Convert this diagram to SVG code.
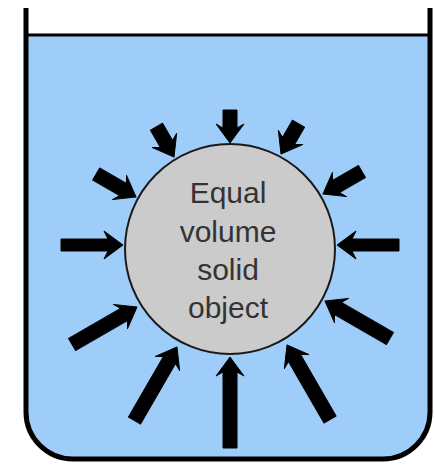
<svg xmlns="http://www.w3.org/2000/svg" width="434" height="465" viewBox="0 0 434 465">
<style>
.arrow{fill:#000000;stroke:#000000;stroke-width:1;stroke-linejoin:round;}
.wall{fill:none;stroke:#000000;stroke-width:5;stroke-linejoin:round;}
.label{font-family:"Liberation Sans",Arial,sans-serif;font-size:30px;fill:#333333;text-anchor:middle;}
</style>
<rect width="434" height="465" fill="#ffffff"/>
<g id="container">
<path d="M26,35 L430,35 L430,412 A47,47 0 0 1 383,459 L73,459 A47,47 0 0 1 26,412 Z" fill="#9fcdf9"/>
<line x1="26" y1="35" x2="430" y2="35" stroke="#000000" stroke-width="3"/>
<path class="wall" d="M26,8 L26,412 A47,47 0 0 0 73,459 L383,459 A47,47 0 0 0 430,412 L430,8"/>
</g>
<g id="object">
<circle cx="230" cy="249" r="105" fill="#cbcbcb" stroke="#1a1a1a" stroke-width="2"/>
<text class="label" x="228" y="203">Equal</text>
<text class="label" x="228" y="242">volume</text>
<text class="label" x="228" y="280">solid</text>
<text class="label" x="228" y="318">object</text>
</g>
<g id="connectors">
<path class="arrow" transform="translate(230,143) rotate(90)" d="M0,0 L-19,-14 L-15,-7 L-33,-7 L-33,7 L-15,7 L-19,14 Z"/>
<path class="arrow" transform="translate(174,157) rotate(60)" d="M0,0 L-19,-14 L-15,-7 L-35,-7 L-35,7 L-15,7 L-19,14 Z"/>
<path class="arrow" transform="translate(281,154) rotate(120)" d="M0,0 L-19,-14 L-15,-7 L-35,-7 L-35,7 L-15,7 L-19,14 Z"/>
<path class="arrow" transform="translate(136,197) rotate(30)" d="M0,0 L-19,-14 L-15,-7 L-46,-7 L-46,7 L-15,7 L-19,14 Z"/>
<path class="arrow" transform="translate(323,194) rotate(150)" d="M0,0 L-19,-14 L-15,-7 L-45,-7 L-45,7 L-15,7 L-19,14 Z"/>
<path class="arrow" transform="translate(123,245) rotate(0)" d="M0,0 L-19,-14 L-15,-6 L-62,-6 L-62,6 L-15,6 L-19,14 Z"/>
<path class="arrow" transform="translate(337,245) rotate(180)" d="M0,0 L-19,-14 L-15,-6 L-62,-6 L-62,6 L-15,6 L-19,14 Z"/>
<path class="arrow" transform="translate(137,307) rotate(-30)" d="M0,0 L-19,-14 L-15,-7 L-75,-7 L-75,7 L-15,7 L-19,14 Z"/>
<path class="arrow" transform="translate(177,347) rotate(-60)" d="M0,0 L-19,-14 L-15,-7 L-85,-7 L-85,7 L-15,7 L-19,14 Z"/>
<path class="arrow" transform="translate(230,357) rotate(-90)" d="M0,0 L-19,-14 L-15,-7 L-91,-7 L-91,7 L-15,7 L-19,14 Z"/>
<path class="arrow" transform="translate(287,345) rotate(-120)" d="M0,0 L-19,-14 L-15,-7 L-86,-7 L-86,7 L-15,7 L-19,14 Z"/>
<path class="arrow" transform="translate(325,301) rotate(-150)" d="M0,0 L-19,-14 L-15,-7 L-75,-7 L-75,7 L-15,7 L-19,14 Z"/>
</g>
</svg>
